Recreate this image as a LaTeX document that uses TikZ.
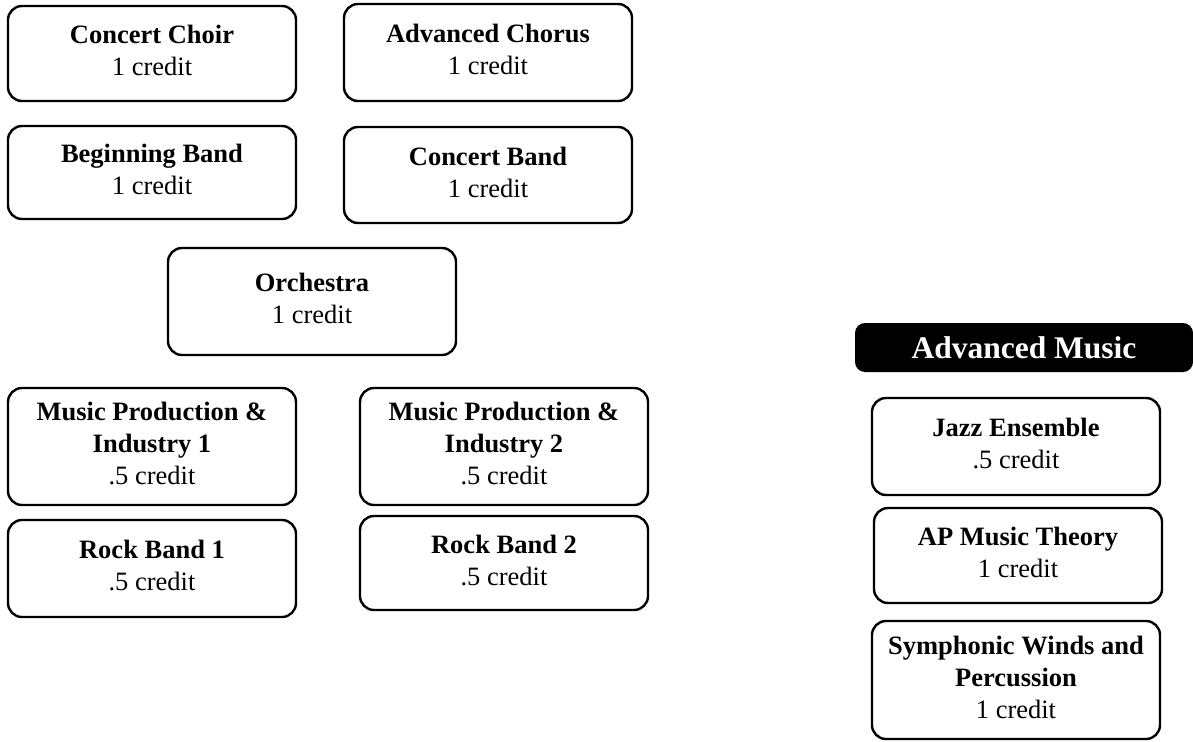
\documentclass[tikz,border=0pt]{standalone}
\usepackage{fontspec}
\setmainfont{Liberation Serif}
\usepackage{tikz}

\tikzset{
    course/.style={draw, line width=2.4pt, rounded corners=14pt, minimum width=288pt,
        inner sep=0pt, align=center, text depth=6pt, font=\fontsize{26.5}{32}\selectfont},
    header/.style={fill=black, text=white, rounded corners=10pt, minimum width=338pt,
        minimum height=49pt, inner sep=0pt, font=\fontsize{31.5}{34}\selectfont\bfseries}
}

\begin{document}
\begin{tikzpicture}[x=1pt,y=-1pt]
    \useasboundingbox (0,0) rectangle (1193,741);

    % Left column
    \node[course, minimum height=95pt] (choir) at (152,53.5) {\textbf{Concert Choir}\\1 credit};
    \node[course, minimum height=93pt] (beginband) at (152,172.5) {\textbf{Beginning Band}\\1 credit};
    \node[course, minimum height=117pt] (prod1) at (152,446.5) {\textbf{Music Production \&}\\\textbf{Industry 1}\\.5 credit};
    \node[course, minimum height=97pt] (rock1) at (152,568.5) {\textbf{Rock Band 1}\\.5 credit};

    % Middle column
    \node[course, minimum height=97pt] (chorus) at (488,52.5) {\textbf{Advanced Chorus}\\1 credit};
    \node[course, minimum height=96pt] (concertband) at (488,175) {\textbf{Concert Band}\\1 credit};
    \node[course, minimum height=107pt] (orchestra) at (312,301.5) {\textbf{Orchestra}\\1 credit};
    \node[course, minimum height=117pt] (prod2) at (504,446.5) {\textbf{Music Production \&}\\\textbf{Industry 2}\\.5 credit};
    \node[course, minimum height=94pt] (rock2) at (504,563) {\textbf{Rock Band 2}\\.5 credit};

    % Advanced music
    \node[header] (advanced) at (1024,347.5) {Advanced Music};
    \node[course, minimum height=97pt] (jazz) at (1016,446.5) {\textbf{Jazz Ensemble}\\.5 credit};
    \node[course, minimum height=95pt] (theory) at (1018,555.5) {\textbf{AP Music Theory}\\1 credit};
    \node[course, minimum height=118pt] (winds) at (1016,680) {\textbf{Symphonic Winds and}\\\textbf{Percussion}\\1 credit};
\end{tikzpicture}
\end{document}
